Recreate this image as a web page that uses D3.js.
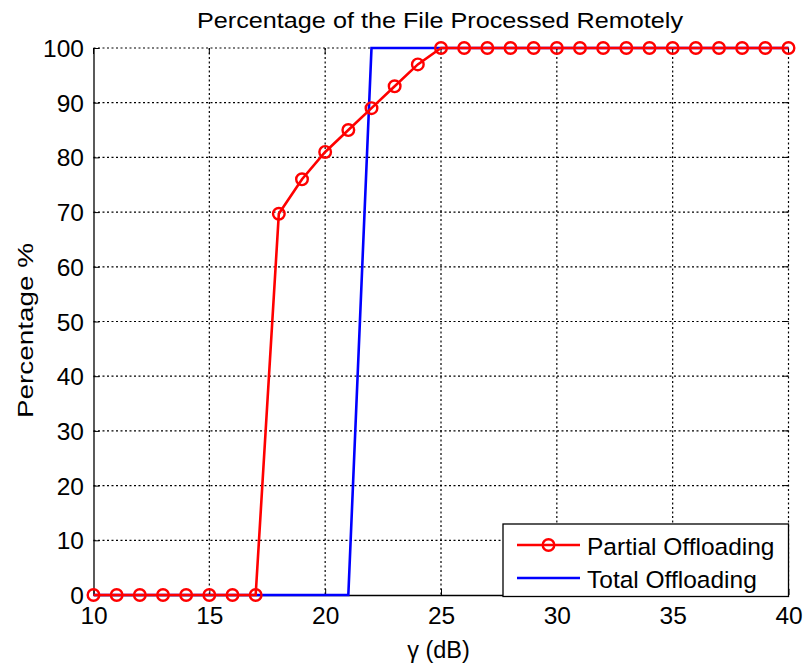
<!DOCTYPE html>
<html>
<head>
<meta charset="utf-8">
<script src="https://cdn.jsdelivr.net/npm/d3@7"></script>
<style>
  body { margin: 0; background: #fff; }
  svg { display: block; font-family: "Liberation Sans", Arial, sans-serif; }
</style>
</head>
<body>
<svg id="chart" width="803" height="664"></svg>
<script>
// SNR values (dB) sampled for the partial offloading scheme
const gammaDb = [10, 11, 12, 13, 14, 15, 16, 17, 18, 19, 20, 21, 22, 23, 24, 25,
                 26, 27, 28, 29, 30, 31, 32, 33, 34, 35, 36, 37, 38, 39, 40];
// Percentage processed remotely with partial offloading
const partialPct = [0, 0, 0, 0, 0, 0, 0, 0, 69.7, 76, 81, 85, 89, 93, 97, 100,
                    100, 100, 100, 100, 100, 100, 100, 100, 100, 100, 100, 100, 100, 100, 100];
// Total offloading: all-or-nothing decision
const totalGamma = [10, 21, 22, 40];
const totalPct = [0, 0, 100, 100];

const xTicks = [10, 15, 20, 25, 30, 35, 40];
const yTicks = [0, 10, 20, 30, 40, 50, 60, 70, 80, 90, 100];
const seriesNames = ["Partial Offloading", "Total Offloading"];
const seriesColors = ["#ff0000", "#0000ff"];

const svg = d3.select("#chart");
const m = { left: 93.5, right: 788.5, top: 48, bottom: 595 };
const FONT = "Liberation Sans, Arial, sans-serif";

const x = d3.scaleLinear().domain([10, 40]).range([m.left, m.right]);
const y = d3.scaleLinear().domain([0, 100]).range([m.bottom, m.top]);

// Dotted grid
const grid = svg.append("g").attr("stroke", "#000").attr("stroke-width", 1.2)
  .attr("stroke-dasharray", "2,2.5");
grid.selectAll("line.gx").data(xTicks.slice(1)).join("line")
  .attr("x1", d => x(d)).attr("x2", d => x(d))
  .attr("y1", m.top).attr("y2", m.bottom);
grid.selectAll("line.gy").data(yTicks.slice(1)).join("line")
  .attr("x1", m.left).attr("x2", m.right)
  .attr("y1", d => y(d)).attr("y2", d => y(d));

// Axes (ticks pointing inward)
const xAxis = d3.axisBottom(x).tickValues(xTicks).tickSizeInner(-6).tickSizeOuter(0).tickPadding(12);
const yAxis = d3.axisLeft(y).tickValues(yTicks).tickSizeInner(-6).tickSizeOuter(0).tickPadding(9.5);

const gx = svg.append("g").attr("transform", `translate(0,${m.bottom})`).call(xAxis);
const gy = svg.append("g").attr("transform", `translate(${m.left},0)`).call(yAxis);
[gx, gy].forEach(g => {
  g.attr("font-size", null).attr("font-family", null);
  g.select(".domain").attr("stroke", "#000").attr("stroke-width", 1.3);
  g.selectAll(".tick line").attr("stroke", "#000").attr("stroke-width", 1);
  g.selectAll(".tick text").attr("fill", "#000").style("font-size", "24.5px")
    .style("font-family", FONT);
});
gy.selectAll(".tick text").attr("dy", "0.35em");

// Inward ticks on the right and top edges
svg.append("g").selectAll("line").data(yTicks).join("line")
  .attr("x1", m.right).attr("x2", m.right - 6)
  .attr("y1", d => y(d)).attr("y2", d => y(d))
  .attr("stroke", "#000").attr("stroke-width", 1);
svg.append("g").selectAll("line").data(xTicks).join("line")
  .attr("x1", d => x(d)).attr("x2", d => x(d))
  .attr("y1", m.top).attr("y2", m.top + 6)
  .attr("stroke", "#000").attr("stroke-width", 1);

// Total offloading line
const line = d3.line().x(d => x(d[0])).y(d => y(d[1]));
svg.append("path")
  .datum(totalGamma.map((g, i) => [g, totalPct[i]]))
  .attr("d", line).attr("fill", "none")
  .attr("stroke", seriesColors[1]).attr("stroke-width", 2.6);

// Partial offloading line with circle markers
const partialData = gammaDb.map((g, i) => [g, partialPct[i]]);
svg.append("path")
  .datum(partialData)
  .attr("d", line).attr("fill", "none")
  .attr("stroke", seriesColors[0]).attr("stroke-width", 2.6);
svg.append("g").selectAll("circle").data(partialData).join("circle")
  .attr("cx", d => x(d[0])).attr("cy", d => y(d[1])).attr("r", 5.8)
  .attr("fill", "none").attr("stroke", seriesColors[0]).attr("stroke-width", 2.4);

// Title and axis labels
svg.append("text").attr("x", 440).attr("y", 28).attr("text-anchor", "middle")
  .style("font-size", "22px").attr("textLength", 486).attr("lengthAdjust", "spacingAndGlyphs")
  .text("Percentage of the File Processed Remotely");
svg.append("text").attr("x", 438.5).attr("y", 658).attr("text-anchor", "middle")
  .style("font-size", "23.5px").text("γ (dB)");
svg.append("text").attr("transform", "translate(33,330.5) rotate(-90)")
  .attr("text-anchor", "middle").style("font-size", "22.5px")
  .attr("textLength", 175).attr("lengthAdjust", "spacingAndGlyphs").text("Percentage %");

// Legend
const lg = svg.append("g");
lg.append("rect").attr("x", 503).attr("y", 524).attr("width", 285.5).attr("height", 72.5)
  .attr("fill", "#fff").attr("stroke", "#000").attr("stroke-width", 1.3);
const rows = [545, 578];
seriesNames.forEach((name, i) => {
  lg.append("line").attr("x1", 517).attr("x2", 580).attr("y1", rows[i]).attr("y2", rows[i])
    .attr("stroke", seriesColors[i]).attr("stroke-width", 2.6);
  if (i === 0) {
    lg.append("circle").attr("cx", 548.5).attr("cy", rows[i]).attr("r", 5.8)
      .attr("fill", "none").attr("stroke", seriesColors[i]).attr("stroke-width", 2.4);
  }
  lg.append("text").attr("x", 587).attr("y", rows[i] + 10).attr("dy", 0)
    .style("font-size", "24.5px").text(name);
});
</script>
</body>
</html>
